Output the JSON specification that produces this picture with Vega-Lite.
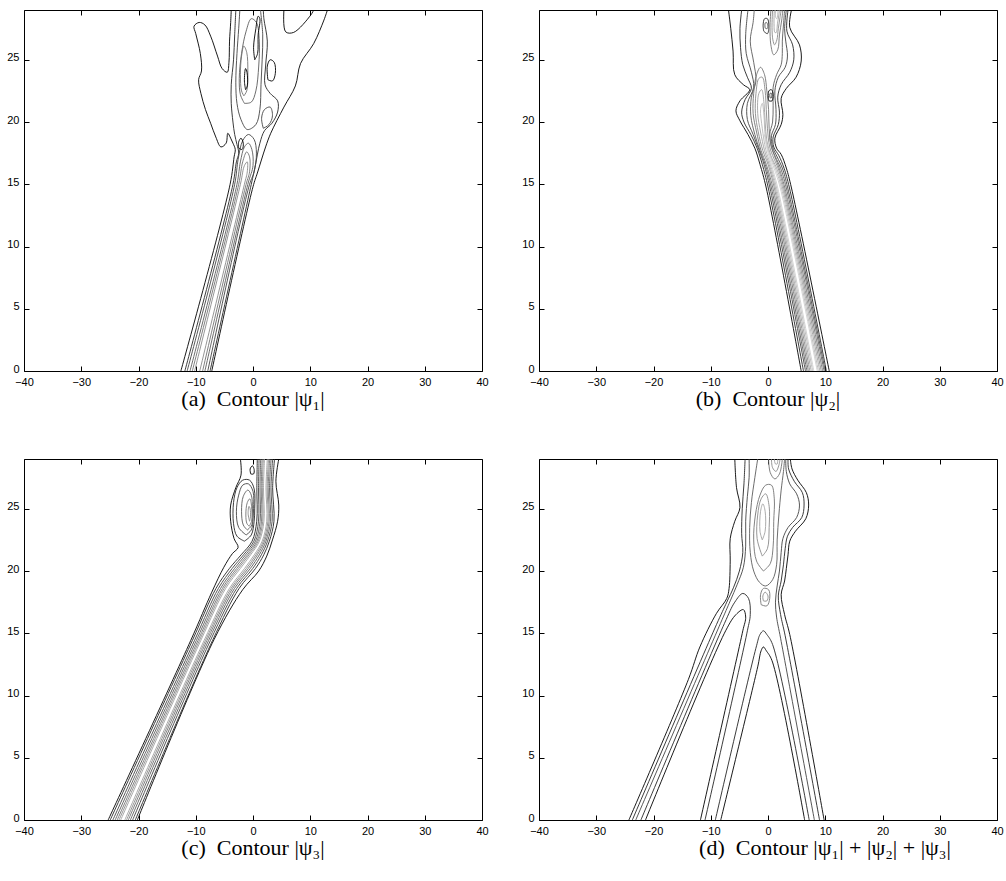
{
"$schema": "https://vega.github.io/schema/vega-lite/v6.json",
"background": "white",
"padding": {"left": 6, "top": 6, "right": 0, "bottom": 0},
"config": {
 "view": {"stroke": "black", "strokeWidth": 1},
 "axis": {"domain": false, "grid": false, "tickSize": -5, "tickColor": "black", "tickWidth": 1, "labelPadding": 10, "labelFont": "Liberation Sans", "labelFontSize": 11, "labelColor": "black", "labelFlush": false, "labelOverlap": false},
 "axisLeft": {"labelOffset": -2},
 "title": {"orient": "bottom", "anchor": "middle", "font": "Liberation Serif", "fontSize": 22, "fontWeight": "normal", "color": "black", "offset": 2}
},
"datasets": {
"a": [
{"c":"a1","l":1,"x":-12.6,"y":0},{"c":"a1","l":1,"x":-4.0,"y":15.0},{"c":"a1","l":1,"x":-3.3,"y":17.2},{"c":"a1","l":1,"x":-3.1,"y":17.8},{"c":"a1","l":1,"x":-3.5,"y":18.3},{"c":"a1","l":1,"x":-3.9,"y":18.7},{"c":"a1","l":1,"x":-4.4,"y":19.1},{"c":"a1","l":1,"x":-4.7,"y":18.3},{"c":"a1","l":1,"x":-5.6,"y":18.0},{"c":"a1","l":1,"x":-6.5,"y":18.8},{"c":"a1","l":1,"x":-7.4,"y":19.9},{"c":"a1","l":1,"x":-8.3,"y":21.0},{"c":"a1","l":1,"x":-9.1,"y":22.3},{"c":"a1","l":1,"x":-9.5,"y":23.4},{"c":"a1","l":1,"x":-9.0,"y":24.1},{"c":"a1","l":1,"x":-9.2,"y":25.5},{"c":"a1","l":1,"x":-10.0,"y":27.1},{"c":"a1","l":1,"x":-10.3,"y":27.7},{"c":"a1","l":1,"x":-9.4,"y":28.0},{"c":"a1","l":1,"x":-8.4,"y":27.8},{"c":"a1","l":1,"x":-7.4,"y":26.9},{"c":"a1","l":1,"x":-6.2,"y":25.3},{"c":"a1","l":1,"x":-5.4,"y":24.3},{"c":"a1","l":1,"x":-4.5,"y":24.0},{"c":"a1","l":1,"x":-4.2,"y":24.8},{"c":"a1","l":1,"x":-4.1,"y":26.5},{"c":"a1","l":1,"x":-3.9,"y":28.0},{"c":"a1","l":1,"x":-3.8,"y":29.0},
{"c":"a2","l":1,"x":-7.2,"y":0},{"c":"a2","l":1,"x":0.0,"y":14.8},{"c":"a2","l":1,"x":0.76,"y":15.9},{"c":"a2","l":1,"x":2.2,"y":18.0},{"c":"a2","l":1,"x":3.1,"y":19.1},{"c":"a2","l":1,"x":5.4,"y":21.2},{"c":"a2","l":1,"x":7.4,"y":22.9},{"c":"a2","l":1,"x":8.3,"y":24.7},{"c":"a2","l":1,"x":10.6,"y":26.3},{"c":"a2","l":1,"x":12.4,"y":28.2},{"c":"a2","l":1,"x":13.0,"y":29.0},
{"c":"a3","l":1,"x":5.4,"y":29.0},{"c":"a3","l":1,"x":5.7,"y":27.25},{"c":"a3","l":1,"x":7.1,"y":27.2},{"c":"a3","l":1,"x":10.1,"y":28.6},{"c":"a3","l":1,"x":10.6,"y":29.0},
{"c":"a4","l":2,"x":-11.9,"y":0},{"c":"a4","l":2,"x":-3.5,"y":15.0},{"c":"a4","l":2,"x":-2.9,"y":16.8},{"c":"a4","l":2,"x":-2.5,"y":17.5},{"c":"a4","l":2,"x":-2.8,"y":18.2},{"c":"a4","l":2,"x":-3.2,"y":19.0},{"c":"a4","l":2,"x":-3.5,"y":20.0},{"c":"a4","l":2,"x":-3.8,"y":21.5},{"c":"a4","l":2,"x":-3.8,"y":23.0},{"c":"a4","l":2,"x":-3.4,"y":25.0},{"c":"a4","l":2,"x":-3.2,"y":27.0},{"c":"a4","l":2,"x":-3.0,"y":29.0},
{"c":"a5","l":2,"x":-7.5,"y":0},{"c":"a5","l":2,"x":-0.3,"y":15.0},{"c":"a5","l":2,"x":0.4,"y":16.5},{"c":"a5","l":2,"x":1.2,"y":18.3},{"c":"a5","l":2,"x":2.0,"y":19.3},{"c":"a5","l":2,"x":3.3,"y":19.9},{"c":"a5","l":2,"x":4.3,"y":20.8},{"c":"a5","l":2,"x":4.3,"y":21.7},{"c":"a5","l":2,"x":3.0,"y":22.3},{"c":"a5","l":2,"x":2.1,"y":23.0},{"c":"a5","l":2,"x":2.2,"y":24.5},{"c":"a5","l":2,"x":2.5,"y":26.5},{"c":"a5","l":2,"x":1.9,"y":28.3},{"c":"a5","l":2,"x":1.8,"y":29.0},
{"c":"a6","l":3,"x":-11.5,"y":0},{"c":"a6","l":3,"x":-3.2,"y":15},{"c":"a6","l":3,"x":-2.6,"y":17},{"c":"a6","l":3,"x":-1.8,"y":18.5},{"c":"a6","l":3,"x":-0.8,"y":19.0},{"c":"a6","l":3,"x":0.2,"y":18.6},{"c":"a6","l":3,"x":0.6,"y":17.5},{"c":"a6","l":3,"x":0.2,"y":16},{"c":"a6","l":3,"x":-0.6,"y":15},{"c":"a6","l":3,"x":-7.9,"y":0},
{"c":"a7","l":4,"x":-11.0,"y":0},{"c":"a7","l":4,"x":-2.8,"y":15},{"c":"a7","l":4,"x":-2.2,"y":16.8},{"c":"a7","l":4,"x":-1.5,"y":18.0},{"c":"a7","l":4,"x":-0.8,"y":18.3},{"c":"a7","l":4,"x":-0.2,"y":17.8},{"c":"a7","l":4,"x":0.0,"y":16.5},{"c":"a7","l":4,"x":-0.9,"y":15},{"c":"a7","l":4,"x":-8.4,"y":0},
{"c":"a8","l":5,"x":-10.6,"y":0},{"c":"a8","l":5,"x":-2.5,"y":15},{"c":"a8","l":5,"x":-1.8,"y":16.8},{"c":"a8","l":5,"x":-1.1,"y":17.6},{"c":"a8","l":5,"x":-0.6,"y":17.2},{"c":"a8","l":5,"x":-0.6,"y":16.0},{"c":"a8","l":5,"x":-1.2,"y":15},{"c":"a8","l":5,"x":-8.8,"y":0},
{"c":"a9","l":6,"x":-10.2,"y":0},{"c":"a9","l":6,"x":-2.2,"y":15},{"c":"a9","l":6,"x":-1.5,"y":16.5},{"c":"a9","l":6,"x":-1.0,"y":16.8},{"c":"a9","l":6,"x":-1.0,"y":16.0},{"c":"a9","l":6,"x":-1.5,"y":15},{"c":"a9","l":6,"x":-9.3,"y":0},
{"c":"a10","l":3,"x":-2.3,"y":29},{"c":"a10","l":3,"x":-2.5,"y":27.5},{"c":"a10","l":3,"x":-2.8,"y":25.5},{"c":"a10","l":3,"x":-3.0,"y":23.2},{"c":"a10","l":3,"x":-2.8,"y":21.5},{"c":"a10","l":3,"x":-2.1,"y":20.2},{"c":"a10","l":3,"x":-1.0,"y":19.4},{"c":"a10","l":3,"x":0.5,"y":19.8},{"c":"a10","l":3,"x":1.2,"y":21.0},{"c":"a10","l":3,"x":1.4,"y":23.0},{"c":"a10","l":3,"x":1.6,"y":25.0},{"c":"a10","l":3,"x":1.7,"y":27.0},{"c":"a10","l":3,"x":1.3,"y":29.0},
{"c":"a11","l":4,"x":-1.5,"y":21.5},{"c":"a11","l":4,"x":-0.3,"y":21.6},{"c":"a11","l":4,"x":0.5,"y":22.5},{"c":"a11","l":4,"x":1.0,"y":24.5},{"c":"a11","l":4,"x":1.1,"y":26.5},{"c":"a11","l":4,"x":0.6,"y":28.0},{"c":"a11","l":4,"x":-0.3,"y":28.3},{"c":"a11","l":4,"x":-1.2,"y":27.3},{"c":"a11","l":4,"x":-2.0,"y":25.5},{"c":"a11","l":4,"x":-2.4,"y":23.5},{"c":"a11","l":4,"x":-2.2,"y":22.2},{"c":"a11","l":4,"x":-1.5,"y":21.5},
{"c":"a12","l":5,"x":-1.6,"y":22.1},{"c":"a12","l":5,"x":-1.1,"y":22.5},{"c":"a12","l":5,"x":-0.9,"y":24.0},{"c":"a12","l":5,"x":-1.1,"y":25.6},{"c":"a12","l":5,"x":-1.6,"y":26.1},{"c":"a12","l":5,"x":-2.0,"y":25.3},{"c":"a12","l":5,"x":-2.2,"y":23.8},{"c":"a12","l":5,"x":-2.0,"y":22.5},{"c":"a12","l":5,"x":-1.6,"y":22.1},
{"c":"a13","l":1,"x":-1.3,"y":22.6},{"c":"a13","l":1,"x":-1.0,"y":22.9},{"c":"a13","l":1,"x":-1.05,"y":24.0},{"c":"a13","l":1,"x":-1.3,"y":24.3},{"c":"a13","l":1,"x":-1.5,"y":23.3},{"c":"a13","l":1,"x":-1.3,"y":22.6},
{"c":"a14","l":1,"x":0.3,"y":25.0},{"c":"a14","l":1,"x":0.8,"y":25.5},{"c":"a14","l":1,"x":0.9,"y":27.0},{"c":"a14","l":1,"x":1.2,"y":28.3},{"c":"a14","l":1,"x":0.9,"y":28.5},{"c":"a14","l":1,"x":0.5,"y":27.5},{"c":"a14","l":1,"x":0.1,"y":26.0},{"c":"a14","l":1,"x":0.3,"y":25.0},
{"c":"a15","l":3,"x":1.8,"y":19.5},{"c":"a15","l":3,"x":2.8,"y":19.8},{"c":"a15","l":3,"x":3.4,"y":20.5},{"c":"a15","l":3,"x":3.0,"y":21.2},{"c":"a15","l":3,"x":2.0,"y":21.0},{"c":"a15","l":3,"x":1.5,"y":20.3},{"c":"a15","l":3,"x":1.8,"y":19.5},
{"c":"a16","l":1,"x":2.6,"y":23.4},{"c":"a16","l":1,"x":3.4,"y":23.3},{"c":"a16","l":1,"x":3.9,"y":23.9},{"c":"a16","l":1,"x":3.7,"y":24.8},{"c":"a16","l":1,"x":3.0,"y":25.0},{"c":"a16","l":1,"x":2.5,"y":24.5},{"c":"a16","l":1,"x":2.6,"y":23.4},
{"c":"a17","l":1,"x":-2.5,"y":17.9},{"c":"a17","l":1,"x":-1.9,"y":17.8},{"c":"a17","l":1,"x":-1.7,"y":18.3},{"c":"a17","l":1,"x":-2.1,"y":18.7},{"c":"a17","l":1,"x":-2.5,"y":18.4},{"c":"a17","l":1,"x":-2.5,"y":17.9}
],
"b": [
{"c":"b1","l":1,"x":5.8,"y":0},{"c":"b1","l":1,"x":-0.3,"y":14.7},{"c":"b1","l":1,"x":-1.4,"y":16.6},{"c":"b1","l":1,"x":-2.3,"y":17.9},{"c":"b1","l":1,"x":-3.5,"y":19.0},{"c":"b1","l":1,"x":-4.9,"y":20.1},{"c":"b1","l":1,"x":-5.6,"y":20.9},{"c":"b1","l":1,"x":-4.9,"y":21.7},{"c":"b1","l":1,"x":-3.2,"y":22.6},{"c":"b1","l":1,"x":-4.3,"y":23.0},{"c":"b1","l":1,"x":-5.8,"y":23.8},{"c":"b1","l":1,"x":-6.1,"y":25.7},{"c":"b1","l":1,"x":-6.5,"y":27.5},{"c":"b1","l":1,"x":-6.9,"y":29.0},
{"c":"b2","l":1,"x":10.7,"y":0},{"c":"b2","l":1,"x":4.1,"y":14.7},{"c":"b2","l":1,"x":3.2,"y":16.3},{"c":"b2","l":1,"x":2.3,"y":17.4},{"c":"b2","l":1,"x":1.5,"y":17.9},{"c":"b2","l":1,"x":1.2,"y":18.7},{"c":"b2","l":1,"x":2.3,"y":19.8},{"c":"b2","l":1,"x":2.6,"y":20.6},{"c":"b2","l":1,"x":2.3,"y":21.9},{"c":"b2","l":1,"x":3.2,"y":22.7},{"c":"b2","l":1,"x":4.9,"y":23.6},{"c":"b2","l":1,"x":5.8,"y":24.9},{"c":"b2","l":1,"x":5.5,"y":26.2},{"c":"b2","l":1,"x":3.8,"y":27.6},{"c":"b2","l":1,"x":4.1,"y":29.0},
{"c":"b3","l":2,"x":6.2,"y":0},{"c":"b3","l":2,"x":0.05,"y":14.7},{"c":"b3","l":2,"x":-1.0,"y":16.6},{"c":"b3","l":2,"x":-1.9,"y":17.9},{"c":"b3","l":2,"x":-3.0,"y":19.0},{"c":"b3","l":2,"x":-4.2,"y":20.0},{"c":"b3","l":2,"x":-4.6,"y":20.8},{"c":"b3","l":2,"x":-4.0,"y":21.8},{"c":"b3","l":2,"x":-2.9,"y":22.7},{"c":"b3","l":2,"x":-3.6,"y":23.6},{"c":"b3","l":2,"x":-4.4,"y":24.6},{"c":"b3","l":2,"x":-4.8,"y":26.0},{"c":"b3","l":2,"x":-4.9,"y":27.5},{"c":"b3","l":2,"x":-4.6,"y":29.0},
{"c":"b4","l":2,"x":10.2,"y":0},{"c":"b4","l":2,"x":3.75,"y":14.7},{"c":"b4","l":2,"x":2.8,"y":16.3},{"c":"b4","l":2,"x":1.9,"y":17.3},{"c":"b4","l":2,"x":1.0,"y":18.0},{"c":"b4","l":2,"x":0.9,"y":18.8},{"c":"b4","l":2,"x":1.8,"y":19.8},{"c":"b4","l":2,"x":2.0,"y":20.8},{"c":"b4","l":2,"x":1.7,"y":22.0},{"c":"b4","l":2,"x":2.3,"y":23.0},{"c":"b4","l":2,"x":3.8,"y":24.0},{"c":"b4","l":2,"x":4.5,"y":25.0},{"c":"b4","l":2,"x":4.3,"y":26.2},{"c":"b4","l":2,"x":3.3,"y":27.3},{"c":"b4","l":2,"x":3.5,"y":29.0},
{"c":"b5","l":3,"x":6.55,"y":0},{"c":"b5","l":3,"x":0.35,"y":14.7},{"c":"b5","l":3,"x":-0.7,"y":16.6},{"c":"b5","l":3,"x":-1.6,"y":17.8},{"c":"b5","l":3,"x":-2.6,"y":19.0},{"c":"b5","l":3,"x":-3.6,"y":20.2},{"c":"b5","l":3,"x":-3.6,"y":21.5},{"c":"b5","l":3,"x":-2.5,"y":22.8},{"c":"b5","l":3,"x":-2.9,"y":24.0},{"c":"b5","l":3,"x":-3.8,"y":25.5},{"c":"b5","l":3,"x":-3.9,"y":27.0},{"c":"b5","l":3,"x":-3.5,"y":29.0},
{"c":"b6","l":3,"x":10.0,"y":0},{"c":"b6","l":3,"x":3.45,"y":14.7},{"c":"b6","l":3,"x":2.5,"y":16.3},{"c":"b6","l":3,"x":1.6,"y":17.2},{"c":"b6","l":3,"x":0.8,"y":18.0},{"c":"b6","l":3,"x":0.6,"y":18.9},{"c":"b6","l":3,"x":1.3,"y":19.8},{"c":"b6","l":3,"x":1.4,"y":21.0},{"c":"b6","l":3,"x":1.2,"y":22.5},{"c":"b6","l":3,"x":1.8,"y":23.6},{"c":"b6","l":3,"x":3.0,"y":24.4},{"c":"b6","l":3,"x":3.4,"y":25.3},{"c":"b6","l":3,"x":3.1,"y":26.5},{"c":"b6","l":3,"x":2.9,"y":27.5},{"c":"b6","l":3,"x":3.2,"y":29.0},
{"c":"b7","l":4,"x":6.8,"y":0},{"c":"b7","l":4,"x":0.6,"y":14.7},{"c":"b7","l":4,"x":-0.5,"y":16.6},{"c":"b7","l":4,"x":-1.4,"y":17.7},{"c":"b7","l":4,"x":-2.3,"y":19.0},{"c":"b7","l":4,"x":-3.0,"y":20.5},{"c":"b7","l":4,"x":-2.9,"y":22.0},{"c":"b7","l":4,"x":-2.1,"y":23.3},{"c":"b7","l":4,"x":-2.5,"y":24.8},{"c":"b7","l":4,"x":-3.1,"y":26.5},{"c":"b7","l":4,"x":-2.6,"y":28.0},{"c":"b7","l":4,"x":-2.4,"y":29.0},
{"c":"b8","l":4,"x":9.8,"y":0},{"c":"b8","l":4,"x":3.2,"y":14.7},{"c":"b8","l":4,"x":2.2,"y":16.3},{"c":"b8","l":4,"x":1.3,"y":17.2},{"c":"b8","l":4,"x":0.6,"y":18.0},{"c":"b8","l":4,"x":0.3,"y":19.0},{"c":"b8","l":4,"x":0.8,"y":20.0},{"c":"b8","l":4,"x":0.9,"y":21.3},{"c":"b8","l":4,"x":0.9,"y":22.8},{"c":"b8","l":4,"x":1.5,"y":23.8},{"c":"b8","l":4,"x":2.3,"y":24.6},{"c":"b8","l":4,"x":2.5,"y":25.5},{"c":"b8","l":4,"x":2.5,"y":26.5},{"c":"b8","l":4,"x":2.7,"y":27.8},{"c":"b8","l":4,"x":2.9,"y":29.0},
{"c":"b9","l":5,"x":7.05,"y":0},{"c":"b9","l":5,"x":0.85,"y":14.7},{"c":"b9","l":5,"x":-0.3,"y":16.6},{"c":"b9","l":5,"x":-1.2,"y":17.7},{"c":"b9","l":5,"x":-2.0,"y":19.2},{"c":"b9","l":5,"x":-2.6,"y":20.7},{"c":"b9","l":5,"x":-2.5,"y":22.3},{"c":"b9","l":5,"x":-2.0,"y":23.8},{"c":"b9","l":5,"x":-1.3,"y":24.4},{"c":"b9","l":5,"x":-0.6,"y":23.8},{"c":"b9","l":5,"x":-0.2,"y":22.5},{"c":"b9","l":5,"x":0.1,"y":21.0},{"c":"b9","l":5,"x":0.2,"y":19.5},{"c":"b9","l":5,"x":0.6,"y":18.0},{"c":"b9","l":5,"x":1.2,"y":17.2},{"c":"b9","l":5,"x":1.95,"y":16.3},{"c":"b9","l":5,"x":2.95,"y":14.7},{"c":"b9","l":5,"x":9.55,"y":0},
{"c":"b10","l":6,"x":7.3,"y":0},{"c":"b10","l":6,"x":1.1,"y":14.7},{"c":"b10","l":6,"x":0.0,"y":16.6},{"c":"b10","l":6,"x":-0.9,"y":17.7},{"c":"b10","l":6,"x":-1.7,"y":19.2},{"c":"b10","l":6,"x":-2.2,"y":20.7},{"c":"b10","l":6,"x":-2.1,"y":22.3},{"c":"b10","l":6,"x":-1.6,"y":23.5},{"c":"b10","l":6,"x":-1.0,"y":23.6},{"c":"b10","l":6,"x":-0.5,"y":22.5},{"c":"b10","l":6,"x":-0.3,"y":21.0},{"c":"b10","l":6,"x":-0.1,"y":19.5},{"c":"b10","l":6,"x":0.3,"y":18.0},{"c":"b10","l":6,"x":1.0,"y":17.1},{"c":"b10","l":6,"x":1.75,"y":16.3},{"c":"b10","l":6,"x":2.75,"y":14.7},{"c":"b10","l":6,"x":9.3,"y":0},
{"c":"b11","l":7,"x":7.55,"y":0},{"c":"b11","l":7,"x":1.3,"y":14.7},{"c":"b11","l":7,"x":0.2,"y":16.6},{"c":"b11","l":7,"x":-0.6,"y":17.7},{"c":"b11","l":7,"x":-1.3,"y":19.2},{"c":"b11","l":7,"x":-1.8,"y":20.7},{"c":"b11","l":7,"x":-1.6,"y":22.3},{"c":"b11","l":7,"x":-1.1,"y":22.6},{"c":"b11","l":7,"x":-0.7,"y":21.5},{"c":"b11","l":7,"x":-0.5,"y":20.0},{"c":"b11","l":7,"x":-0.2,"y":18.5},{"c":"b11","l":7,"x":0.5,"y":17.3},{"c":"b11","l":7,"x":1.5,"y":16.3},{"c":"b11","l":7,"x":2.55,"y":14.7},{"c":"b11","l":7,"x":9.05,"y":0},
{"c":"b12","l":8,"x":7.8,"y":0},{"c":"b12","l":8,"x":1.5,"y":14.7},{"c":"b12","l":8,"x":0.4,"y":16.6},{"c":"b12","l":8,"x":-0.4,"y":17.8},{"c":"b12","l":8,"x":-1.0,"y":19.5},{"c":"b12","l":8,"x":-1.3,"y":21.0},{"c":"b12","l":8,"x":-1.0,"y":21.5},{"c":"b12","l":8,"x":-0.7,"y":20.5},{"c":"b12","l":8,"x":-0.5,"y":19.0},{"c":"b12","l":8,"x":0.1,"y":17.7},{"c":"b12","l":8,"x":1.2,"y":16.4},{"c":"b12","l":8,"x":2.35,"y":14.7},{"c":"b12","l":8,"x":8.8,"y":0},
{"c":"b13","l":9,"x":8.0,"y":0},{"c":"b13","l":9,"x":1.7,"y":14.7},{"c":"b13","l":9,"x":0.6,"y":16.6},{"c":"b13","l":9,"x":-0.2,"y":17.9},{"c":"b13","l":9,"x":-0.6,"y":19.0},{"c":"b13","l":9,"x":-0.4,"y":18.7},{"c":"b13","l":9,"x":0.0,"y":17.8},{"c":"b13","l":9,"x":0.9,"y":16.5},{"c":"b13","l":9,"x":2.15,"y":14.7},{"c":"b13","l":9,"x":8.6,"y":0},
{"c":"b14","l":1,"x":0.15,"y":21.7},{"c":"b14","l":1,"x":0.7,"y":21.7},{"c":"b14","l":1,"x":0.9,"y":22.2},{"c":"b14","l":1,"x":0.6,"y":22.6},{"c":"b14","l":1,"x":0.15,"y":22.5},{"c":"b14","l":1,"x":0.05,"y":22.0},{"c":"b14","l":1,"x":0.15,"y":21.7},
{"c":"b15","l":3,"x":0.35,"y":21.95},{"c":"b15","l":3,"x":0.6,"y":21.95},{"c":"b15","l":3,"x":0.6,"y":22.3},{"c":"b15","l":3,"x":0.35,"y":22.3},{"c":"b15","l":3,"x":0.35,"y":21.95},
{"c":"b16","l":2,"x":-0.75,"y":27.3},{"c":"b16","l":2,"x":-0.1,"y":27.1},{"c":"b16","l":2,"x":0.15,"y":27.7},{"c":"b16","l":2,"x":-0.1,"y":28.3},{"c":"b16","l":2,"x":-0.6,"y":28.3},{"c":"b16","l":2,"x":-0.85,"y":27.8},{"c":"b16","l":2,"x":-0.75,"y":27.3},
{"c":"b17","l":4,"x":-0.5,"y":27.55},{"c":"b17","l":4,"x":-0.15,"y":27.5},{"c":"b17","l":4,"x":-0.05,"y":27.75},{"c":"b17","l":4,"x":-0.25,"y":28.0},{"c":"b17","l":4,"x":-0.5,"y":27.95},{"c":"b17","l":4,"x":-0.5,"y":27.55},
{"c":"b18","l":5,"x":0.5,"y":29},{"c":"b18","l":5,"x":0.35,"y":27.6},{"c":"b18","l":5,"x":0.5,"y":26.2},{"c":"b18","l":5,"x":1.0,"y":25.4},{"c":"b18","l":5,"x":1.7,"y":25.8},{"c":"b18","l":5,"x":2.0,"y":27.0},{"c":"b18","l":5,"x":2.4,"y":28.2},{"c":"b18","l":5,"x":2.6,"y":29},
{"c":"b19","l":6,"x":0.8,"y":29},{"c":"b19","l":6,"x":0.7,"y":27.6},{"c":"b19","l":6,"x":0.85,"y":26.6},{"c":"b19","l":6,"x":1.15,"y":26.2},{"c":"b19","l":6,"x":1.55,"y":26.6},{"c":"b19","l":6,"x":1.8,"y":27.5},{"c":"b19","l":6,"x":2.1,"y":28.4},{"c":"b19","l":6,"x":2.3,"y":29},
{"c":"b20","l":7,"x":1.1,"y":29},{"c":"b20","l":7,"x":1.05,"y":27.9},{"c":"b20","l":7,"x":1.2,"y":27.2},{"c":"b20","l":7,"x":1.45,"y":27.2},{"c":"b20","l":7,"x":1.65,"y":27.9},{"c":"b20","l":7,"x":1.9,"y":28.6},{"c":"b20","l":7,"x":2.0,"y":29},
{"c":"b21","l":8,"x":1.35,"y":29},{"c":"b21","l":8,"x":1.35,"y":28.4},{"c":"b21","l":8,"x":1.55,"y":28.3},{"c":"b21","l":8,"x":1.75,"y":29}
],
"c": [
{"c":"c1","l":1,"x":-25.3,"y":0},{"c":"c1","l":1,"x":-10.9,"y":14.4},{"c":"c1","l":1,"x":-7.2,"y":18.3},{"c":"c1","l":1,"x":-5.1,"y":20.3},{"c":"c1","l":1,"x":-3.6,"y":21.4},{"c":"c1","l":1,"x":-2.6,"y":21.9},{"c":"c1","l":1,"x":-3.3,"y":22.6},{"c":"c1","l":1,"x":-3.9,"y":24.0},{"c":"c1","l":1,"x":-3.9,"y":25.3},{"c":"c1","l":1,"x":-3.0,"y":26.7},{"c":"c1","l":1,"x":-2.1,"y":27.7},{"c":"c1","l":1,"x":-2.2,"y":29.0},
{"c":"c2","l":1,"x":-20.2,"y":0},{"c":"c2","l":1,"x":-6.8,"y":14.5},{"c":"c2","l":1,"x":-1.8,"y":18.5},{"c":"c2","l":1,"x":1.0,"y":20.0},{"c":"c2","l":1,"x":2.4,"y":21.2},{"c":"c2","l":1,"x":3.4,"y":22.5},{"c":"c2","l":1,"x":4.3,"y":24.0},{"c":"c2","l":1,"x":4.5,"y":25.3},{"c":"c2","l":1,"x":4.0,"y":27.2},{"c":"c2","l":1,"x":4.5,"y":29.0},
{"c":"c3","l":2,"x":-24.94,"y":0},{"c":"c3","l":2,"x":-10.61,"y":14.4},{"c":"c3","l":2,"x":-6.47,"y":18.6},{"c":"c3","l":2,"x":-4.13,"y":20.2},{"c":"c3","l":2,"x":-2.08,"y":21.3},{"c":"c3","l":2,"x":-0.16,"y":22.4},{"c":"c3","l":2,"x":0.65,"y":24.0},{"c":"c3","l":2,"x":0.67,"y":26.7},{"c":"c3","l":2,"x":0.75,"y":29.0},
{"c":"c4","l":2,"x":-20.56,"y":0},{"c":"c4","l":2,"x":-7.09,"y":14.4},{"c":"c4","l":2,"x":-2.43,"y":18.6},{"c":"c4","l":2,"x":0.43,"y":20.2},{"c":"c4","l":2,"x":1.88,"y":21.3},{"c":"c4","l":2,"x":2.86,"y":22.4},{"c":"c4","l":2,"x":3.66,"y":24.0},{"c":"c4","l":2,"x":3.43,"y":26.7},{"c":"c4","l":2,"x":3.76,"y":29.0},
{"c":"c5","l":3,"x":-24.48,"y":0},{"c":"c5","l":3,"x":-10.24,"y":14.4},{"c":"c5","l":3,"x":-6.05,"y":18.6},{"c":"c5","l":3,"x":-3.65,"y":20.2},{"c":"c5","l":3,"x":-1.66,"y":21.3},{"c":"c5","l":3,"x":0.16,"y":22.4},{"c":"c5","l":3,"x":0.96,"y":24.0},{"c":"c5","l":3,"x":0.96,"y":26.7},{"c":"c5","l":3,"x":1.06,"y":29.0},
{"c":"c6","l":3,"x":-21.02,"y":0},{"c":"c6","l":3,"x":-7.46,"y":14.4},{"c":"c6","l":3,"x":-2.85,"y":18.6},{"c":"c6","l":3,"x":-0.05,"y":20.2},{"c":"c6","l":3,"x":1.46,"y":21.3},{"c":"c6","l":3,"x":2.54,"y":22.4},{"c":"c6","l":3,"x":3.34,"y":24.0},{"c":"c6","l":3,"x":3.14,"y":26.7},{"c":"c6","l":3,"x":3.44,"y":29.0},
{"c":"c7","l":4,"x":-24.08,"y":0},{"c":"c7","l":4,"x":-9.92,"y":14.4},{"c":"c7","l":4,"x":-5.67,"y":18.6},{"c":"c7","l":4,"x":-3.23,"y":20.2},{"c":"c7","l":4,"x":-1.30,"y":21.3},{"c":"c7","l":4,"x":0.44,"y":22.4},{"c":"c7","l":4,"x":1.24,"y":24.0},{"c":"c7","l":4,"x":1.22,"y":26.7},{"c":"c7","l":4,"x":1.34,"y":29.0},
{"c":"c8","l":4,"x":-21.42,"y":0},{"c":"c8","l":4,"x":-7.78,"y":14.4},{"c":"c8","l":4,"x":-3.23,"y":18.6},{"c":"c8","l":4,"x":-0.47,"y":20.2},{"c":"c8","l":4,"x":1.10,"y":21.3},{"c":"c8","l":4,"x":2.26,"y":22.4},{"c":"c8","l":4,"x":3.06,"y":24.0},{"c":"c8","l":4,"x":2.88,"y":26.7},{"c":"c8","l":4,"x":3.16,"y":29.0},
{"c":"c9","l":5,"x":-23.72,"y":0},{"c":"c9","l":5,"x":-9.63,"y":14.4},{"c":"c9","l":5,"x":-5.34,"y":18.6},{"c":"c9","l":5,"x":-2.86,"y":20.2},{"c":"c9","l":5,"x":-0.97,"y":21.3},{"c":"c9","l":5,"x":0.69,"y":22.4},{"c":"c9","l":5,"x":1.49,"y":24.0},{"c":"c9","l":5,"x":1.44,"y":26.7},{"c":"c9","l":5,"x":1.59,"y":29.0},
{"c":"c10","l":5,"x":-21.78,"y":0},{"c":"c10","l":5,"x":-8.07,"y":14.4},{"c":"c10","l":5,"x":-3.56,"y":18.6},{"c":"c10","l":5,"x":-0.84,"y":20.2},{"c":"c10","l":5,"x":0.77,"y":21.3},{"c":"c10","l":5,"x":2.02,"y":22.4},{"c":"c10","l":5,"x":2.82,"y":24.0},{"c":"c10","l":5,"x":2.66,"y":26.7},{"c":"c10","l":5,"x":2.92,"y":29.0},
{"c":"c11","l":6,"x":-23.41,"y":0},{"c":"c11","l":6,"x":-9.38,"y":14.4},{"c":"c11","l":6,"x":-5.06,"y":18.6},{"c":"c11","l":6,"x":-2.54,"y":20.2},{"c":"c11","l":6,"x":-0.70,"y":21.3},{"c":"c11","l":6,"x":0.90,"y":22.4},{"c":"c11","l":6,"x":1.70,"y":24.0},{"c":"c11","l":6,"x":1.63,"y":26.7},{"c":"c11","l":6,"x":1.80,"y":29.0},
{"c":"c12","l":6,"x":-22.09,"y":0},{"c":"c12","l":6,"x":-8.32,"y":14.4},{"c":"c12","l":6,"x":-3.84,"y":18.6},{"c":"c12","l":6,"x":-1.16,"y":20.2},{"c":"c12","l":6,"x":0.50,"y":21.3},{"c":"c12","l":6,"x":1.81,"y":22.4},{"c":"c12","l":6,"x":2.61,"y":24.0},{"c":"c12","l":6,"x":2.47,"y":26.7},{"c":"c12","l":6,"x":2.71,"y":29.0},
{"c":"c13","l":7,"x":-23.11,"y":0},{"c":"c13","l":7,"x":-9.14,"y":14.4},{"c":"c13","l":7,"x":-4.78,"y":18.6},{"c":"c13","l":7,"x":-2.22,"y":20.2},{"c":"c13","l":7,"x":-0.42,"y":21.3},{"c":"c13","l":7,"x":1.11,"y":22.4},{"c":"c13","l":7,"x":1.91,"y":24.0},{"c":"c13","l":7,"x":1.83,"y":26.7},{"c":"c13","l":7,"x":2.01,"y":29.0},
{"c":"c14","l":7,"x":-22.39,"y":0},{"c":"c14","l":7,"x":-8.56,"y":14.4},{"c":"c14","l":7,"x":-4.12,"y":18.6},{"c":"c14","l":7,"x":-1.48,"y":20.2},{"c":"c14","l":7,"x":0.22,"y":21.3},{"c":"c14","l":7,"x":1.60,"y":22.4},{"c":"c14","l":7,"x":2.40,"y":24.0},{"c":"c14","l":7,"x":2.27,"y":26.7},{"c":"c14","l":7,"x":2.50,"y":29.0},
{"c":"c15","l":2,"x":-1.5,"y":22.4},{"c":"c15","l":2,"x":-0.3,"y":22.9},{"c":"c15","l":2,"x":0.2,"y":24.0},{"c":"c15","l":2,"x":0.3,"y":25.0},{"c":"c15","l":2,"x":0.2,"y":26.6},{"c":"c15","l":2,"x":-0.6,"y":27.3},{"c":"c15","l":2,"x":-1.8,"y":27.3},{"c":"c15","l":2,"x":-2.8,"y":26.7},{"c":"c15","l":2,"x":-3.4,"y":25.5},{"c":"c15","l":2,"x":-3.4,"y":23.8},{"c":"c15","l":2,"x":-2.8,"y":22.8},{"c":"c15","l":2,"x":-1.5,"y":22.4},
{"c":"c16","l":3,"x":-1.2,"y":22.9},{"c":"c16","l":3,"x":-0.3,"y":23.3},{"c":"c16","l":3,"x":0.0,"y":24.2},{"c":"c16","l":3,"x":0.1,"y":25.0},{"c":"c16","l":3,"x":0.0,"y":26.4},{"c":"c16","l":3,"x":-0.8,"y":27.0},{"c":"c16","l":3,"x":-1.8,"y":26.9},{"c":"c16","l":3,"x":-2.5,"y":26.1},{"c":"c16","l":3,"x":-2.9,"y":24.8},{"c":"c16","l":3,"x":-2.5,"y":23.5},{"c":"c16","l":3,"x":-1.2,"y":22.9},
{"c":"c17","l":4,"x":-1.0,"y":23.3},{"c":"c17","l":4,"x":-0.2,"y":23.7},{"c":"c17","l":4,"x":-0.1,"y":25.0},{"c":"c17","l":4,"x":-0.3,"y":26.1},{"c":"c17","l":4,"x":-0.9,"y":26.5},{"c":"c17","l":4,"x":-1.7,"y":26.0},{"c":"c17","l":4,"x":-2.0,"y":24.8},{"c":"c17","l":4,"x":-1.7,"y":23.7},{"c":"c17","l":4,"x":-1.0,"y":23.3},
{"c":"c18","l":5,"x":-0.65,"y":23.6},{"c":"c18","l":5,"x":-0.25,"y":24.0},{"c":"c18","l":5,"x":-0.25,"y":25.2},{"c":"c18","l":5,"x":-0.55,"y":25.8},{"c":"c18","l":5,"x":-1.0,"y":25.5},{"c":"c18","l":5,"x":-1.25,"y":24.5},{"c":"c18","l":5,"x":-1.05,"y":23.8},{"c":"c18","l":5,"x":-0.65,"y":23.6},
{"c":"c19","l":6,"x":-0.6,"y":24.0},{"c":"c19","l":6,"x":-0.45,"y":24.35},{"c":"c19","l":6,"x":-0.5,"y":25.0},{"c":"c19","l":6,"x":-0.7,"y":25.2},{"c":"c19","l":6,"x":-0.85,"y":24.6},{"c":"c19","l":6,"x":-0.6,"y":24.0},
{"c":"c20","l":1,"x":-0.4,"y":27.8},{"c":"c20","l":1,"x":0.1,"y":27.8},{"c":"c20","l":1,"x":0.2,"y":28.15},{"c":"c20","l":1,"x":-0.1,"y":28.45},{"c":"c20","l":1,"x":-0.5,"y":28.2},{"c":"c20","l":1,"x":-0.4,"y":27.8}
],
"d": [
{"c":"d1","l":1,"x":-24.3,"y":0},{"c":"d1","l":1,"x":-13.9,"y":11.3},{"c":"d1","l":1,"x":-11.9,"y":13.9},{"c":"d1","l":1,"x":-9.0,"y":16.6},{"c":"d1","l":1,"x":-7.2,"y":17.8},{"c":"d1","l":1,"x":-6.8,"y":18.6},{"c":"d1","l":1,"x":-6.6,"y":20.8},{"c":"d1","l":1,"x":-6.6,"y":22.6},{"c":"d1","l":1,"x":-5.8,"y":24.0},{"c":"d1","l":1,"x":-4.9,"y":25.1},{"c":"d1","l":1,"x":-5.5,"y":26.7},{"c":"d1","l":1,"x":-5.8,"y":29.0},
{"c":"d2","l":1,"x":9.8,"y":0},{"c":"d2","l":1,"x":3.8,"y":14.9},{"c":"d2","l":1,"x":2.9,"y":16.5},{"c":"d2","l":1,"x":2.3,"y":18.1},{"c":"d2","l":1,"x":2.9,"y":19.2},{"c":"d2","l":1,"x":3.2,"y":20.2},{"c":"d2","l":1,"x":3.5,"y":21.3},{"c":"d2","l":1,"x":3.8,"y":22.4},{"c":"d2","l":1,"x":4.8,"y":23.2},{"c":"d2","l":1,"x":6.6,"y":24.2},{"c":"d2","l":1,"x":7.1,"y":25.3},{"c":"d2","l":1,"x":6.7,"y":26.3},{"c":"d2","l":1,"x":5.2,"y":27.3},{"c":"d2","l":1,"x":4.2,"y":28.2},{"c":"d2","l":1,"x":3.9,"y":29.0},
{"c":"d3","l":2,"x":-23.7,"y":0},{"c":"d3","l":2,"x":-9.0,"y":15.7},{"c":"d3","l":2,"x":-7.2,"y":17.5},{"c":"d3","l":2,"x":-6.0,"y":18.7},{"c":"d3","l":2,"x":-5.0,"y":20.0},{"c":"d3","l":2,"x":-4.4,"y":21.5},{"c":"d3","l":2,"x":-4.6,"y":23.0},{"c":"d3","l":2,"x":-4.5,"y":25.0},{"c":"d3","l":2,"x":-4.2,"y":27.0},{"c":"d3","l":2,"x":-4.0,"y":29.0},
{"c":"d4","l":3,"x":-23.1,"y":0},{"c":"d4","l":3,"x":-8.3,"y":15.8},{"c":"d4","l":3,"x":-6.6,"y":17.6},{"c":"d4","l":3,"x":-5.4,"y":18.9},{"c":"d4","l":3,"x":-4.3,"y":20.3},{"c":"d4","l":3,"x":-3.9,"y":22.0},{"c":"d4","l":3,"x":-3.9,"y":24.0},{"c":"d4","l":3,"x":-3.6,"y":26.0},{"c":"d4","l":3,"x":-3.3,"y":27.5},{"c":"d4","l":3,"x":-3.3,"y":29.0},
{"c":"d5","l":1,"x":-21.4,"y":0},{"c":"d5","l":1,"x":-7.4,"y":15.2},{"c":"d5","l":1,"x":-5.6,"y":16.5},{"c":"d5","l":1,"x":-4.3,"y":16.9},{"c":"d5","l":1,"x":-3.9,"y":16.3},{"c":"d5","l":1,"x":-4.4,"y":15.2},{"c":"d5","l":1,"x":-11.8,"y":0},
{"c":"d6","l":2,"x":-22.2,"y":0},{"c":"d6","l":2,"x":-7.6,"y":15.8},{"c":"d6","l":2,"x":-5.8,"y":17.5},{"c":"d6","l":2,"x":-4.4,"y":18.2},{"c":"d6","l":2,"x":-3.4,"y":17.8},{"c":"d6","l":2,"x":-3.1,"y":16.5},{"c":"d6","l":2,"x":-3.6,"y":15.2},{"c":"d6","l":2,"x":-11.0,"y":0},
{"c":"d7","l":1,"x":-8.25,"y":0},{"c":"d7","l":1,"x":-1.8,"y":12.3},{"c":"d7","l":1,"x":-1.2,"y":13.6},{"c":"d7","l":1,"x":-0.8,"y":13.9},{"c":"d7","l":1,"x":-0.3,"y":13.6},{"c":"d7","l":1,"x":0.7,"y":12.8},{"c":"d7","l":1,"x":6.4,"y":0},
{"c":"d8","l":2,"x":-9.2,"y":0},{"c":"d8","l":2,"x":-2.0,"y":14.0},{"c":"d8","l":2,"x":-1.4,"y":14.9},{"c":"d8","l":2,"x":-0.8,"y":15.2},{"c":"d8","l":2,"x":-0.2,"y":14.9},{"c":"d8","l":2,"x":0.8,"y":14.1},{"c":"d8","l":2,"x":7.2,"y":0},
{"c":"d9","l":3,"x":8.1,"y":0},{"c":"d9","l":3,"x":2.2,"y":14.6},{"c":"d9","l":3,"x":1.5,"y":16.3},{"c":"d9","l":3,"x":1.3,"y":17.5},{"c":"d9","l":3,"x":1.6,"y":18.8},{"c":"d9","l":3,"x":2.0,"y":20.0},{"c":"d9","l":3,"x":2.3,"y":21.5},{"c":"d9","l":3,"x":2.6,"y":22.6},{"c":"d9","l":3,"x":3.5,"y":23.5},{"c":"d9","l":3,"x":5.0,"y":24.3},{"c":"d9","l":3,"x":5.5,"y":25.3},{"c":"d9","l":3,"x":5.0,"y":26.2},{"c":"d9","l":3,"x":3.8,"y":27.0},{"c":"d9","l":3,"x":3.2,"y":28.0},{"c":"d9","l":3,"x":3.1,"y":29.0},
{"c":"d10","l":2,"x":9.0,"y":0},{"c":"d10","l":2,"x":3.0,"y":14.8},{"c":"d10","l":2,"x":2.2,"y":16.5},{"c":"d10","l":2,"x":1.8,"y":18.0},{"c":"d10","l":2,"x":2.3,"y":19.2},{"c":"d10","l":2,"x":2.7,"y":20.5},{"c":"d10","l":2,"x":3.0,"y":21.8},{"c":"d10","l":2,"x":3.4,"y":22.8},{"c":"d10","l":2,"x":4.3,"y":23.5},{"c":"d10","l":2,"x":5.9,"y":24.3},{"c":"d10","l":2,"x":6.3,"y":25.3},{"c":"d10","l":2,"x":6.0,"y":26.3},{"c":"d10","l":2,"x":4.6,"y":27.2},{"c":"d10","l":2,"x":3.6,"y":28.2},{"c":"d10","l":2,"x":3.5,"y":29.0},
{"c":"d11","l":4,"x":-1.8,"y":29.0},{"c":"d11","l":4,"x":-2.3,"y":27.5},{"c":"d11","l":4,"x":-2.9,"y":25.5},{"c":"d11","l":4,"x":-3.2,"y":23.5},{"c":"d11","l":4,"x":-3.1,"y":21.5},{"c":"d11","l":4,"x":-2.5,"y":20.0},{"c":"d11","l":4,"x":-1.5,"y":19.1},{"c":"d11","l":4,"x":-0.4,"y":18.8},{"c":"d11","l":4,"x":0.8,"y":19.3},{"c":"d11","l":4,"x":1.5,"y":20.5},{"c":"d11","l":4,"x":1.6,"y":22.5},{"c":"d11","l":4,"x":1.9,"y":24.5},{"c":"d11","l":4,"x":2.3,"y":26.5},{"c":"d11","l":4,"x":2.7,"y":28.0},{"c":"d11","l":4,"x":2.9,"y":29.0},
{"c":"d12","l":5,"x":-0.8,"y":20.0},{"c":"d12","l":5,"x":0.4,"y":20.6},{"c":"d12","l":5,"x":0.9,"y":22.0},{"c":"d12","l":5,"x":1.0,"y":24.0},{"c":"d12","l":5,"x":1.1,"y":25.8},{"c":"d12","l":5,"x":0.6,"y":26.9},{"c":"d12","l":5,"x":-0.4,"y":26.9},{"c":"d12","l":5,"x":-1.4,"y":26.1},{"c":"d12","l":5,"x":-2.2,"y":24.5},{"c":"d12","l":5,"x":-2.5,"y":22.5},{"c":"d12","l":5,"x":-2.0,"y":20.8},{"c":"d12","l":5,"x":-0.8,"y":20.0},
{"c":"d13","l":6,"x":-1.0,"y":21.2},{"c":"d13","l":6,"x":-0.1,"y":21.8},{"c":"d13","l":6,"x":0.2,"y":23.5},{"c":"d13","l":6,"x":0.2,"y":25.2},{"c":"d13","l":6,"x":-0.4,"y":26.2},{"c":"d13","l":6,"x":-1.2,"y":25.8},{"c":"d13","l":6,"x":-1.8,"y":24.5},{"c":"d13","l":6,"x":-1.9,"y":22.6},{"c":"d13","l":6,"x":-1.0,"y":21.2},
{"c":"d14","l":7,"x":-1.0,"y":22.5},{"c":"d14","l":7,"x":-0.5,"y":23.2},{"c":"d14","l":7,"x":-0.5,"y":24.8},{"c":"d14","l":7,"x":-0.9,"y":25.4},{"c":"d14","l":7,"x":-1.3,"y":24.8},{"c":"d14","l":7,"x":-1.4,"y":23.2},{"c":"d14","l":7,"x":-1.0,"y":22.5},
{"c":"d15","l":5,"x":-1.2,"y":17.3},{"c":"d15","l":5,"x":-0.2,"y":17.2},{"c":"d15","l":5,"x":0.3,"y":17.8},{"c":"d15","l":5,"x":0.1,"y":18.5},{"c":"d15","l":5,"x":-0.8,"y":18.6},{"c":"d15","l":5,"x":-1.3,"y":18.1},{"c":"d15","l":5,"x":-1.2,"y":17.3},
{"c":"d16","l":6,"x":-0.8,"y":17.6},{"c":"d16","l":6,"x":-0.2,"y":17.6},{"c":"d16","l":6,"x":0.0,"y":18.0},{"c":"d16","l":6,"x":-0.5,"y":18.3},{"c":"d16","l":6,"x":-0.9,"y":18.0},{"c":"d16","l":6,"x":-0.8,"y":17.6},
{"c":"d17","l":5,"x":0.1,"y":29},{"c":"d17","l":5,"x":0.4,"y":27.9},{"c":"d17","l":5,"x":1.2,"y":27.4},{"c":"d17","l":5,"x":2.0,"y":27.8},{"c":"d17","l":5,"x":2.4,"y":28.6},{"c":"d17","l":5,"x":2.5,"y":29},
{"c":"d18","l":6,"x":0.6,"y":29},{"c":"d18","l":6,"x":0.8,"y":28.3},{"c":"d18","l":6,"x":1.4,"y":28.0},{"c":"d18","l":6,"x":1.9,"y":28.5},{"c":"d18","l":6,"x":2.1,"y":29},
{"c":"d19","l":7,"x":1.1,"y":29},{"c":"d19","l":7,"x":1.3,"y":28.6},{"c":"d19","l":7,"x":1.6,"y":28.6},{"c":"d19","l":7,"x":1.7,"y":29}
]
},
"columns": 2,
"spacing": {"row": 44, "column": 32},
"concat": [
{"width": 458, "height": 361, "data": {"name": "a"}, "title": {"text": "(a)\u00a0 Contour |ψ₁|", "fontSize": 22},
 "layer": [
  {"mark": {"type": "line", "strokeWidth": 0.9, "clip": true, "interpolate": "catmull-rom"},
   "encoding": {
    "x": {"field": "x", "type": "quantitative", "scale": {"domain": [-40, 40], "nice": false, "zero": false}, "axis": {"orient": "bottom", "title": null, "values": [-40,-30,-20,-10,0,10,20,30,40]}},
    "y": {"field": "y", "type": "quantitative", "scale": {"domain": [0, 29], "nice": false, "zero": false}, "axis": {"orient": "left", "title": null, "values": [0,5,10,15,20,25]}},
    "detail": {"field": "c", "type": "nominal"},
    "order": {"value": null},
    "stroke": {"field": "l", "type": "ordinal", "scale": {"domain": [1,2,3,4,5,6,7,8,9], "range": ["#000000","#262626","#444444","#5c5c5c","#737373","#8a8a8a","#a2a2a2","#b8b8b8","#cdcdcd"]}, "legend": null}
   }},
  {"mark": {"type": "point", "opacity": 0},
   "encoding": {
    "x": {"field": "x", "type": "quantitative", "axis": {"orient": "top", "title": null, "labels": false, "values": [-40,-30,-20,-10,0,10,20,30,40]}},
    "y": {"field": "y", "type": "quantitative", "axis": {"orient": "right", "title": null, "labels": false, "values": [0,5,10,15,20,25]}}
   }}
 ],
 "resolve": {"axis": {"x": "independent", "y": "independent"}}
},
{"width": 458, "height": 361, "data": {"name": "b"}, "title": {"text": "(b)\u00a0 Contour |ψ₂|", "fontSize": 22},
 "layer": [
  {"mark": {"type": "line", "strokeWidth": 0.9, "clip": true, "interpolate": "catmull-rom"},
   "encoding": {
    "x": {"field": "x", "type": "quantitative", "scale": {"domain": [-40, 40], "nice": false, "zero": false}, "axis": {"orient": "bottom", "title": null, "values": [-40,-30,-20,-10,0,10,20,30,40]}},
    "y": {"field": "y", "type": "quantitative", "scale": {"domain": [0, 29], "nice": false, "zero": false}, "axis": {"orient": "left", "title": null, "values": [0,5,10,15,20,25]}},
    "detail": {"field": "c", "type": "nominal"},
    "order": {"value": null},
    "stroke": {"field": "l", "type": "ordinal", "scale": {"domain": [1,2,3,4,5,6,7,8,9], "range": ["#000000","#262626","#444444","#5c5c5c","#737373","#8a8a8a","#a2a2a2","#b8b8b8","#cdcdcd"]}, "legend": null}
   }},
  {"mark": {"type": "point", "opacity": 0},
   "encoding": {
    "x": {"field": "x", "type": "quantitative", "axis": {"orient": "top", "title": null, "labels": false, "values": [-40,-30,-20,-10,0,10,20,30,40]}},
    "y": {"field": "y", "type": "quantitative", "axis": {"orient": "right", "title": null, "labels": false, "values": [0,5,10,15,20,25]}}
   }}
 ],
 "resolve": {"axis": {"x": "independent", "y": "independent"}}
},
{"width": 458, "height": 361, "data": {"name": "c"}, "title": {"text": "(c)\u00a0 Contour |ψ₃|", "fontSize": 22},
 "layer": [
  {"mark": {"type": "line", "strokeWidth": 0.9, "clip": true, "interpolate": "catmull-rom"},
   "encoding": {
    "x": {"field": "x", "type": "quantitative", "scale": {"domain": [-40, 40], "nice": false, "zero": false}, "axis": {"orient": "bottom", "title": null, "values": [-40,-30,-20,-10,0,10,20,30,40]}},
    "y": {"field": "y", "type": "quantitative", "scale": {"domain": [0, 29], "nice": false, "zero": false}, "axis": {"orient": "left", "title": null, "values": [0,5,10,15,20,25]}},
    "detail": {"field": "c", "type": "nominal"},
    "order": {"value": null},
    "stroke": {"field": "l", "type": "ordinal", "scale": {"domain": [1,2,3,4,5,6,7,8,9], "range": ["#000000","#262626","#444444","#5c5c5c","#737373","#8a8a8a","#a2a2a2","#b8b8b8","#cdcdcd"]}, "legend": null}
   }},
  {"mark": {"type": "point", "opacity": 0},
   "encoding": {
    "x": {"field": "x", "type": "quantitative", "axis": {"orient": "top", "title": null, "labels": false, "values": [-40,-30,-20,-10,0,10,20,30,40]}},
    "y": {"field": "y", "type": "quantitative", "axis": {"orient": "right", "title": null, "labels": false, "values": [0,5,10,15,20,25]}}
   }}
 ],
 "resolve": {"axis": {"x": "independent", "y": "independent"}}
},
{"width": 458, "height": 361, "data": {"name": "d"}, "title": {"text": "(d)\u00a0 Contour |ψ₁| + |ψ₂| + |ψ₃|", "fontSize": 22, "dx": 57},
 "layer": [
  {"mark": {"type": "line", "strokeWidth": 0.9, "clip": true, "interpolate": "catmull-rom"},
   "encoding": {
    "x": {"field": "x", "type": "quantitative", "scale": {"domain": [-40, 40], "nice": false, "zero": false}, "axis": {"orient": "bottom", "title": null, "values": [-40,-30,-20,-10,0,10,20,30,40]}},
    "y": {"field": "y", "type": "quantitative", "scale": {"domain": [0, 29], "nice": false, "zero": false}, "axis": {"orient": "left", "title": null, "values": [0,5,10,15,20,25]}},
    "detail": {"field": "c", "type": "nominal"},
    "order": {"value": null},
    "stroke": {"field": "l", "type": "ordinal", "scale": {"domain": [1,2,3,4,5,6,7,8,9], "range": ["#000000","#262626","#444444","#5c5c5c","#737373","#8a8a8a","#a2a2a2","#b8b8b8","#cdcdcd"]}, "legend": null}
   }},
  {"mark": {"type": "point", "opacity": 0},
   "encoding": {
    "x": {"field": "x", "type": "quantitative", "axis": {"orient": "top", "title": null, "labels": false, "values": [-40,-30,-20,-10,0,10,20,30,40]}},
    "y": {"field": "y", "type": "quantitative", "axis": {"orient": "right", "title": null, "labels": false, "values": [0,5,10,15,20,25]}}
   }}
 ],
 "resolve": {"axis": {"x": "independent", "y": "independent"}}
}
]
}
